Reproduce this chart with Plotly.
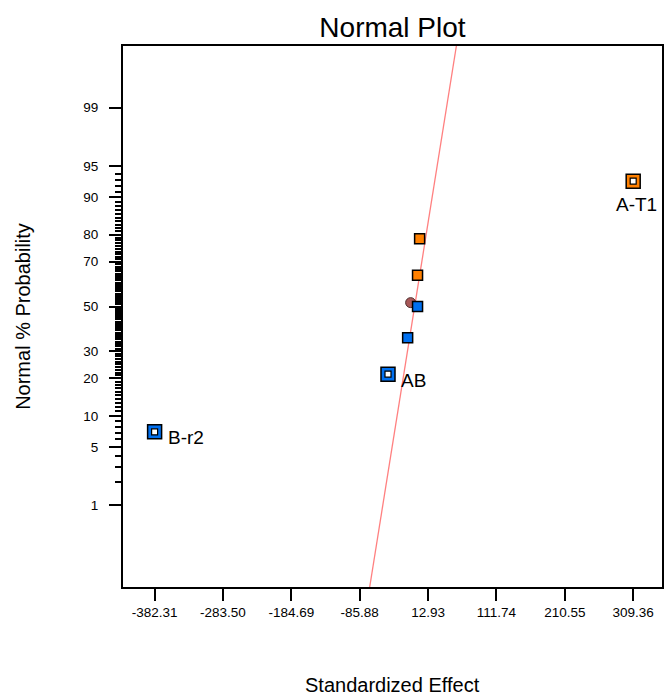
import plotly.graph_objects as go
from statistics import NormalDist

nd = NormalDist()

# ---- data ----
effects = [-382.31, -45.0, -16.6, -2.3, -2.3, 0.7, 309.36]
probs = [7.14, 21.43, 35.71, 50.0, 64.29, 78.57, 92.86]
colors = ["#0070F0", "#0070F0", "#0070F0", "#0070F0", "#FF8000", "#FF8000", "#FF8000"]
labels = ["B-r2", "AB", "", "", "", "", "A-T1"]
error_effect = [-12.3]
error_prob = [51.8]
x_ticks = [-382.31, -283.50, -184.69, -85.88, 12.93, 111.74, 210.55, 309.36]
y_ticks = [1, 5, 10, 20, 30, 50, 70, 80, 90, 95, 99]
y_minor = [2, 3, 4] + list(range(6, 95))
line_intercept = -6.5
line_slope = 19.8

def z(p):
    return nd.inv_cdf(p / 100.0)

y_range = [-3.281, 3.047]
x_range = [-428.0, 351.0]

fig = go.Figure()

# fitted line
lz = list(y_range)
fig.add_trace(go.Scatter(x=[line_intercept + line_slope * v for v in lz], y=lz, mode="lines",
                         line=dict(color="#FF8080", width=1.3), hoverinfo="skip"))

# error estimate circle
fig.add_trace(go.Scatter(x=error_effect, y=[z(p) for p in error_prob], mode="markers",
                         marker=dict(symbol="circle", size=10, color="#A85858",
                                     line=dict(color="#503030", width=1))))

labeled = [i for i, l in enumerate(labels) if l]
plain = [i for i, l in enumerate(labels) if not l]

fig.add_trace(go.Scatter(x=[effects[i] for i in plain], y=[z(probs[i]) for i in plain], mode="markers",
                         marker=dict(symbol="square", size=10, color=[colors[i] for i in plain],
                                     line=dict(color="black", width=1.5))))
fig.add_trace(go.Scatter(x=[effects[i] for i in labeled], y=[z(probs[i]) for i in labeled], mode="markers",
                         marker=dict(symbol="square", size=14, color=[colors[i] for i in labeled],
                                     line=dict(color="black", width=1.5))))
fig.add_trace(go.Scatter(x=[effects[i] for i in labeled], y=[z(probs[i]) for i in labeled], mode="markers",
                         marker=dict(symbol="square", size=6, color="white",
                                     line=dict(color="black", width=1.2))))

font = "Liberation Sans, Arial, sans-serif"
for i in labeled:
    if labels[i] == "A-T1":
        fig.add_annotation(x=effects[i], y=z(probs[i]), text=labels[i], showarrow=False,
                           xanchor="center", yanchor="middle", yshift=-23, xshift=3,
                           font=dict(family=font, size=19, color="black"))
    else:
        fig.add_annotation(x=effects[i], y=z(probs[i]), text=labels[i], showarrow=False,
                           xanchor="left", yanchor="middle", xshift=11, yshift=-6,
                           font=dict(family=font, size=19, color="black"))

fig.add_annotation(text="Standardized Effect", xref="paper", yref="paper", x=0.5, y=-0.181,
                   showarrow=False, xanchor="center", yanchor="middle",
                   font=dict(family=font, size=20, color="black"))
fig.add_annotation(text="Normal % Probability", xref="paper", yref="paper", x=-0.1867, y=0.5,
                   showarrow=False, textangle=-90, xanchor="center", yanchor="middle",
                   font=dict(family=font, size=20, color="black"))

fig.update_layout(
    width=665, height=697,
    margin=dict(l=123, r=1, t=46, b=110),
    paper_bgcolor="white", plot_bgcolor="white",
    showlegend=False,
    title=dict(text="Normal Plot", x=0.5, xref="paper", xanchor="center",
               y=1 - 27 / 697, yref="container", yanchor="middle",
               font=dict(family=font, size=28, color="black")),
    font=dict(family=font, color="black"),
)
fig.update_xaxes(range=x_range, tickmode="array", tickvals=x_ticks,
                 ticktext=[f"{v:.2f}" for v in x_ticks],
                 ticks="outside", ticklen=12, tickwidth=2, tickcolor="black",
                 showline=True, linecolor="black", linewidth=2, mirror=True,
                 showgrid=False, zeroline=False, tickfont=dict(family=font, size=13.5))
fig.update_yaxes(range=y_range, tickmode="array", tickvals=[z(p) for p in y_ticks],
                 ticktext=[str(p) for p in y_ticks],
                 ticks="outside", ticklen=12, tickwidth=2, tickcolor="black",
                 minor=dict(tickmode="array", tickvals=[z(p) for p in y_minor],
                            ticks="outside", ticklen=6, tickwidth=1.5, tickcolor="black", showgrid=False),
                 showline=True, linecolor="black", linewidth=2, mirror=True,
                 showgrid=False, zeroline=False, ticklabelstandoff=8,
                 tickfont=dict(family=font, size=13.5))

fig.write_html("out.html")
